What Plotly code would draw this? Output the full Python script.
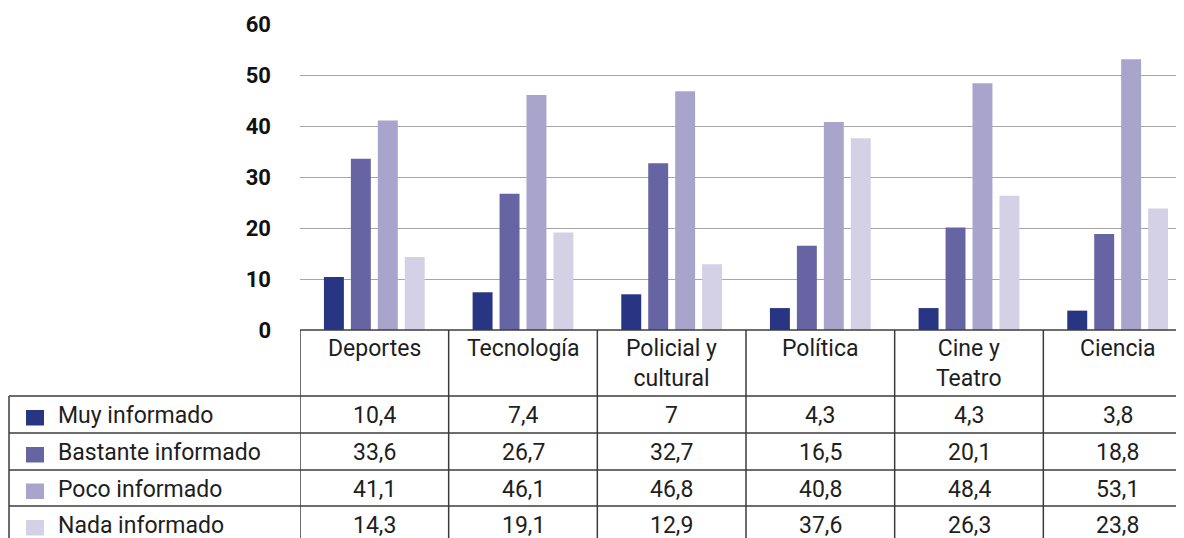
import plotly.graph_objects as go

categories = ["Deportes", "Tecnología", "Policial y cultural", "Política", "Cine y Teatro", "Ciencia"]
header_labels = ["Deportes", "Tecnología", "Policial y<br>cultural", "Política", "Cine y<br>Teatro", "Ciencia"]
series_names = ["Muy informado", "Bastante informado", "Poco informado", "Nada informado"]
muy = [10.4, 7.4, 7, 4.3, 4.3, 3.8]
bastante = [33.6, 26.7, 32.7, 16.5, 20.1, 18.8]
poco = [41.1, 46.1, 46.8, 40.8, 48.4, 53.1]
nada = [14.3, 19.1, 12.9, 37.6, 26.3, 23.8]
colors = ["#283583", "#6664a2", "#a8a4cc", "#d4d1e7"]
y_ticks = [0, 10, 20, 30, 40, 50, 60]

series = [muy, bastante, poco, nada]

# The page adds an 8px body margin; geometry below is in page pixels.
OFF = 8
W, H = 1184, 538
PLOT_L, PLOT_T, PLOT_B = 300, 24, 330
ML = PLOT_L - OFF
MT = PLOT_T - OFF
MB = H - (PLOT_B - OFF)
MR = 0
PW = W - ML - MR
PH = H - MT - MB


def py(p):
    return (PLOT_B - p) / PH


def px(p):
    return (p - PLOT_L) / PW


FONT = "Roboto"
FS = 23
TXT = "#1e1e1e"
LINE = dict(color="#3c3c3c", width=1.5)

fig = go.Figure()
for name, vals, col in zip(series_names, series, colors):
    fig.add_trace(go.Bar(x=categories, y=vals, name=name, marker=dict(color=col, line=dict(width=0)),
                         hoverinfo="x+y+name"))

shapes = []
annotations = []

row_lines = [396, 433, 470, 506]
row_bottom = 543
header_top = PLOT_B
n = len(categories)

shapes.append(dict(type="line", xref="x", yref="paper", x0=-0.5, x1=n - 0.5,
                   y0=py(header_top), y1=py(header_top), line=LINE))
for i in range(n + 1):
    shapes.append(dict(type="line", xref="x", yref="paper", x0=i - 0.5, x1=i - 0.5,
                       y0=py(header_top), y1=py(row_bottom), line=LINE))
for r in row_lines + [row_bottom]:
    shapes.append(dict(type="line", xref="paper", yref="paper", x0=px(9), x1=1.0,
                       y0=py(r), y1=py(r), line=LINE))
shapes.append(dict(type="line", xref="paper", yref="paper", x0=px(9), x1=px(9),
                   y0=py(row_lines[0]), y1=py(row_bottom), line=LINE))

for i, lab in enumerate(header_labels):
    annotations.append(dict(x=i, xref="x", y=py(333), yref="paper", text=lab, showarrow=False,
                            yanchor="top", xanchor="center", align="center",
                            font=dict(family=FONT, size=FS, color=TXT)))

row_tops = row_lines
row_bots = row_lines[1:] + [row_bottom]
for k, (name, vals, col) in enumerate(zip(series_names, series, colors)):
    cy = (row_tops[k] + row_bots[k]) / 2
    shapes.append(dict(type="rect", xref="paper", yref="paper", x0=px(26), x1=px(44),
                       y0=py(cy - 4.5), y1=py(cy + 11), fillcolor=col, line=dict(width=0)))
    annotations.append(dict(x=px(56), xref="paper", y=py(cy + 1), yref="paper", text=name, showarrow=False,
                            xanchor="left", yanchor="middle", font=dict(family=FONT, size=FS, color=TXT)))
    for i, v in enumerate(vals):
        annotations.append(dict(x=i, xref="x", y=py(cy + 1), yref="paper", text=f"{v:g}".replace(".", ","),
                                showarrow=False, xanchor="center", yanchor="middle",
                                font=dict(family=FONT, size=FS, color=TXT)))

fig.update_layout(
    width=W, height=H,
    margin=dict(l=ML, r=MR, t=MT, b=MB, pad=0),
    paper_bgcolor="white", plot_bgcolor="white",
    barmode="group", bargap=0.275, bargroupgap=0.26,
    showlegend=False,
    shapes=shapes, annotations=annotations,
    xaxis=dict(range=[-0.5, 5.5], showticklabels=False, showgrid=False, zeroline=False, showline=False,
               ticks="", categoryorder="array", categoryarray=categories),
    yaxis=dict(range=[0, 60], tickvals=y_ticks, showgrid=True, gridcolor="#a6a6a6", gridwidth=1,
               zeroline=False, showline=False, ticks="", ticklabelstandoff=28,
               tickfont=dict(family="Roboto", size=22, color="#111111", weight="bold")),
)

fig.write_html("out.html")
